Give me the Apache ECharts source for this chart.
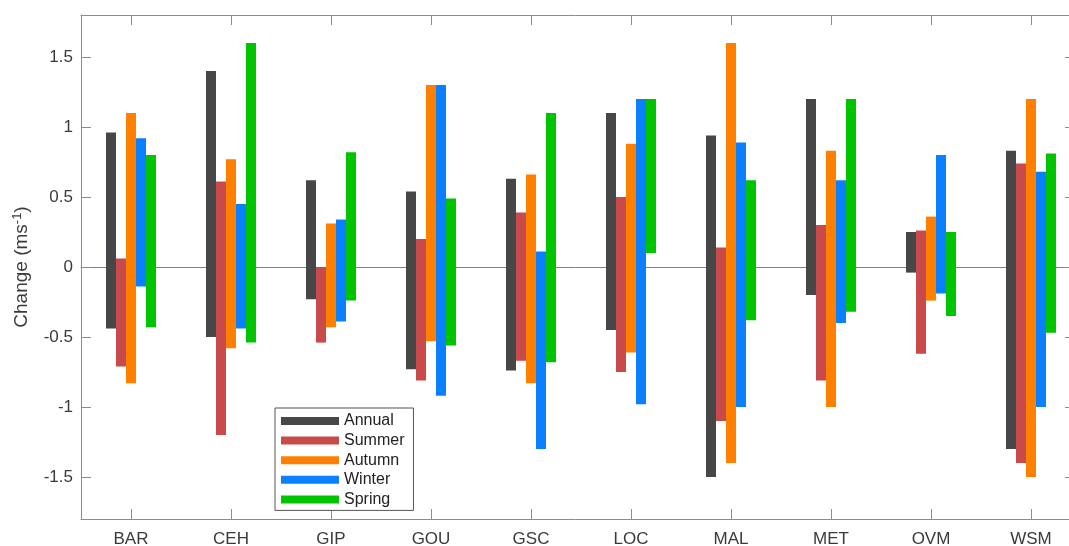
<!DOCTYPE html>
<html>
<head>
<meta charset="utf-8">
<script src="https://cdn.jsdelivr.net/npm/echarts@6/dist/echarts.min.js"></script>
<style>
html,body{margin:0;padding:0;background:#fff;}
#chart{width:1069px;height:546px;}
</style>
</head>
<body>
<div id="chart"></div>
<script>
// ---- data ----
var sites = ['BAR','CEH','GIP','GOU','GSC','LOC','MAL','MET','OVM','WSM'];
var seasons = ['Annual','Summer','Autumn','Winter','Spring'];
var yTicks = [-1.5,-1,-0.5,0,0.5,1,1.5];

var annualLow  = [-0.44,-0.50,-0.23,-0.73,-0.74,-0.45,-1.50,-0.20,-0.04,-1.30];
var annualHigh = [ 0.96, 1.40, 0.62, 0.54, 0.63, 1.10, 0.94, 1.20, 0.25, 0.83];
var summerLow  = [-0.71,-1.20,-0.54,-0.81,-0.67,-0.75,-1.10,-0.81,-0.62,-1.40];
var summerHigh = [ 0.06, 0.61, 0.00, 0.20, 0.39, 0.50, 0.14, 0.30, 0.26, 0.74];
var autumnLow  = [-0.83,-0.58,-0.43,-0.53,-0.83,-0.61,-1.40,-1.00,-0.24,-1.50];
var autumnHigh = [ 1.10, 0.77, 0.31, 1.30, 0.66, 0.88, 1.60, 0.83, 0.36, 1.20];
var winterLow  = [-0.14,-0.44,-0.39,-0.92,-1.30,-0.98,-1.00,-0.40,-0.19,-1.00];
var winterHigh = [ 0.92, 0.45, 0.34, 1.30, 0.11, 1.20, 0.89, 0.62, 0.80, 0.68];
var springLow  = [-0.43,-0.54,-0.24,-0.56,-0.68, 0.10,-0.38,-0.32,-0.35,-0.47];
var springHigh = [ 0.80, 1.60, 0.82, 0.49, 1.10, 1.20, 0.62, 1.20, 0.25, 0.81];

var lows  = [annualLow, summerLow, autumnLow, winterLow, springLow];
var highs = [annualHigh, summerHigh, autumnHigh, winterHigh, springHigh];
var colors = ['#474747','#c94a4a','#ff7f00','#0a80ff','#00c400'];
var offsets = [-0.2,-0.1,0,0.1,0.2];

var FONT = 'Liberation Sans, Arial, sans-serif';
var axisCol = '#8c8c8c';
var textCol = '#3a3a3a';

function makeSeries(k){
  var data = sites.map(function(s,i){ return [i, lows[k][i], highs[k][i]]; });
  return {
    name: seasons[k],
    type: 'custom',
    xAxisIndex: 0, yAxisIndex: 0,
    itemStyle: {color: colors[k]},
    encode: {x: 0, y: [1,2]},
    clip: false,
    data: data,
    renderItem: function(params, api){
      var idx = api.value(0);
      var lo = api.coord([idx, api.value(1)]);
      var hi = api.coord([idx, api.value(2)]);
      var band = api.size([1,0])[0];
      var w = band * 0.1;
      var cx = lo[0] + offsets[k]*band;
      return {
        type: 'rect',
        shape: {x: cx - w/2, y: hi[1], width: w, height: lo[1]-hi[1]},
        style: {fill: colors[k]}
      };
    }
  };
}

function catAxis(pos, showLabel, zero){
  return {
    type: 'category', data: sites, position: pos,
    boundaryGap: true,
    axisLine: zero ? {show: true, onZero: true, onZeroAxisIndex: 0, lineStyle: {color: '#808080', width: 1}}
                   : {show: true, onZero: false, lineStyle: {color: axisCol, width: 1}},
    axisTick: zero ? {show: false}
                   : {show: true, interval: 0, inside: true, alignWithLabel: true, length: 10, lineStyle: {color: axisCol}},
    axisLabel: showLabel ? {show: true, interval: 0, fontFamily: FONT, fontSize: 17, color: textCol, margin: 12}
                         : {show: false},
    splitLine: {show: false}
  };
}

var chart = echarts.init(document.getElementById('chart'), null, {renderer:'canvas'});
chart.setOption({
  animation: false,
  backgroundColor: '#fff',
  textStyle: {fontFamily: FONT},
  grid: {left: 81, top: 15, right: -12, bottom: 27, containLabel: false, outerBoundsMode: 'none'},
  legend: {
    orient: 'vertical',
    left: 275, top: 408,
    data: seasons,
    icon: 'rect',
    itemWidth: 58, itemHeight: 8,
    itemGap: 3.6,
    padding: [5, 9, 3, 6],
    backgroundColor: '#fff',
    borderColor: '#555', borderWidth: 1,
    textStyle: {fontFamily: FONT, fontSize: 16, color: '#222'}
  },
  xAxis: [catAxis('bottom', true, false), catAxis('top', false, false), catAxis('bottom', false, true)],
  yAxis: [
    {
      type: 'value', min: -1.8, max: 1.8, position: 'left',
      axisLine: {show: true, lineStyle: {color: axisCol, width: 1}},
      axisTick: {show: true, inside: true, length: 10, customValues: yTicks, lineStyle: {color: axisCol}},
      axisLabel: {fontFamily: FONT, fontSize: 17, color: textCol, margin: 8, customValues: yTicks,
        formatter: function(v){ return String(v); }},
      splitLine: {show: false},
      name: '{a|Change (ms}{s|-1}{a|)}',
      nameLocation: 'middle', nameGap: 49, nameRotate: 90,
      nameTextStyle: {
        rich: {
          a: {fontFamily: FONT, fontSize: 19, color: textCol},
          s: {fontFamily: FONT, fontSize: 13, color: textCol, verticalAlign: 'top', padding: [0,0,8,0]}
        }
      }
    },
    {
      type: 'value', min: -1.8, max: 1.8, position: 'right', offset: -6,
      axisLine: {show: true, lineStyle: {color: axisCol, width: 1}},
      axisTick: {show: true, inside: true, length: 10, customValues: yTicks, lineStyle: {color: axisCol}},
      axisLabel: {show: false},
      splitLine: {show: false}
    }
  ],
  series: [0,1,2,3,4].map(makeSeries)
});
</script>
</body>
</html>
